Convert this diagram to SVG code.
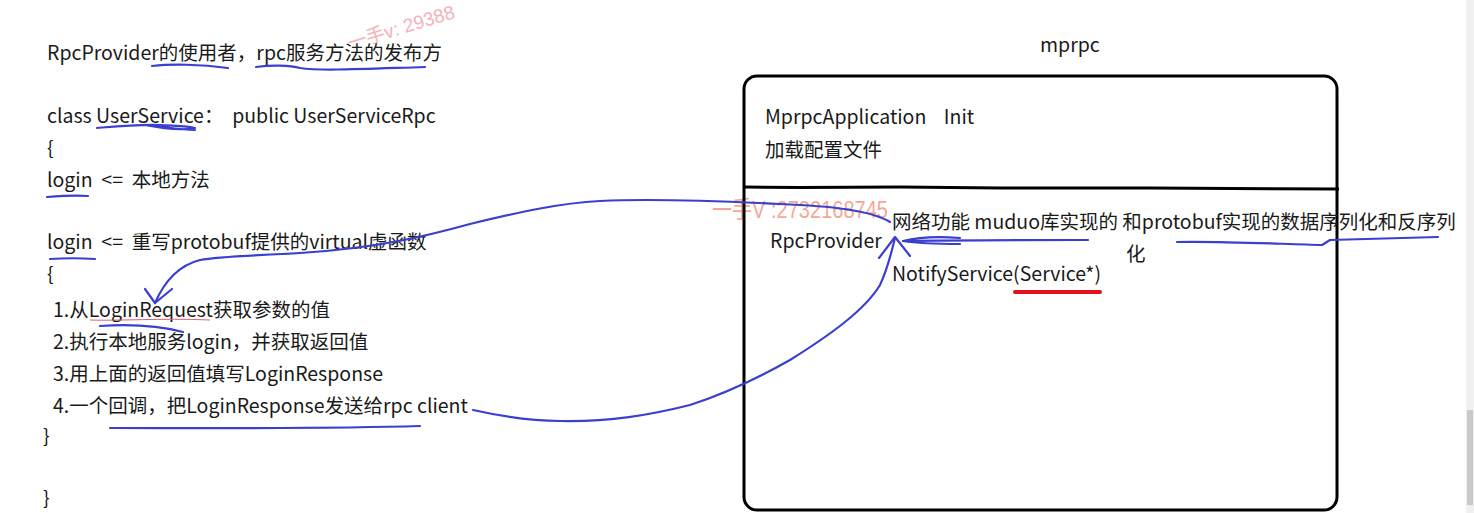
<svg xmlns="http://www.w3.org/2000/svg" width="1474" height="513" viewBox="0 0 1474 513">
<style>
.t{font-family:"Noto Sans CJK SC","Noto Sans",sans-serif;font-size:19.5px;fill:#1a1a1a;white-space:pre}
.ink{fill:none;stroke:#3a3fd0;stroke-width:2.2;stroke-linecap:round;stroke-linejoin:round}
.wm{font-family:"Liberation Sans","Noto Sans CJK SC",sans-serif;fill:#f29a86}
</style>
<rect width="1474" height="513" fill="#ffffff"/>
<rect x="1466" y="0" width="8" height="513" fill="#f0f0f0"/>
<rect x="1467" y="410" width="6" height="95" fill="#c9c9c9"/>

<g id="watermarks">
<text class="wm" x="350" y="50" font-size="19" transform="rotate(-17 350 50)" style="fill:#f6b0bc">一手v: 29388</text>
<text class="wm" x="712" y="218" font-size="24" textLength="176" lengthAdjust="spacingAndGlyphs" opacity="0.85">一手V :2732168745</text>
</g>

<g id="code">
<text class="t" x="47" y="60">RpcProvider的使用者，rpc服务方法的发布方</text>
<text class="t" x="47" y="123" xml:space="preserve">class UserService：  public UserServiceRpc</text>
<text class="t" x="47" y="155">{</text>
<text class="t" x="47" y="187" xml:space="preserve">login  &lt;=  本地方法</text>
<text class="t" x="47" y="249" xml:space="preserve">login  &lt;=  重写protobuf提供的virtual虚函数</text>
<text class="t" x="47" y="281">{</text>
<text class="t" x="53" y="317">1.从LoginRequest获取参数的值</text>
<text class="t" x="53" y="349">2.执行本地服务login，并获取返回值</text>
<text class="t" x="53" y="381">3.用上面的返回值填写LoginResponse</text>
<text class="t" x="53" y="413">4.一个回调，把LoginResponse发送给rpc client</text>
<text class="t" x="43" y="443">}</text>
<text class="t" x="43" y="505">}</text>
</g>

<g id="mprpc">
<text class="t" x="1040" y="52">mprpc</text>
<rect x="744" y="76" width="593" height="434" rx="13" fill="none" stroke="#000" stroke-width="3"/>
<path d="M745 187 L800 187.5 L900 187 L1000 188 L1150 188 L1339 189" fill="none" stroke="#000" stroke-width="3"/>
</g>

<g id="init">
<text class="t" x="765" y="124" xml:space="preserve">MprpcApplication    Init</text>
<text class="t" x="765" y="157">加载配置文件</text>
</g>

<g id="rpcprovider">
<text class="t" x="770" y="248">RpcProvider</text>
<text class="t" x="892" y="229">网络功能 muduo库实现的 和protobuf实现的数据序列化和反序列</text>
<text class="t" x="1126" y="261">化</text>
<text class="t" x="892" y="281">NotifyService(Service*)</text>
</g>

<g id="connectors">
<path class="ink" d="M152 66 C170 64 200 64 228 68"/>
<path class="ink" d="M256 67 C270 65 290 65 300 68 C320 71 360 69 425 67"/>
<path class="ink" d="M97 128 C120 126 140 124 160 125 C175 126 188 126 195 128 C180 131 160 128 145 125 C160 126 180 130 195 130"/>
<path class="ink" d="M47 197 C60 196 75 195 88 196"/>
<path class="ink" d="M50 259 C65 258 80 258 95 259"/>
<path class="ink" d="M100 326 C130 324 160 326 183 332"/>
<path d="M90 320 C120 321 160 318 210 320" fill="none" stroke="#e06070" stroke-width="1"/>
<path class="ink" d="M110 428 C200 428 320 429 420 426"/>
<path class="ink" d="M1177 242 C1220 241 1280 244 1322 245 L1330 240 C1370 239 1410 238 1438 237"/>
<path d="M1015 292 L1100 292" fill="none" stroke="#e4101c" stroke-width="4" stroke-linecap="round"/>
<path class="ink" d="M890 222 C870 210 830 206 780 204 C700 200 640 199 600 201 C560 203 520 212 470 224 C430 235 380 248 300 253 C250 256 220 256 200 260 C180 265 165 280 155 303"/>
<path class="ink" d="M145 289 L155 303 L172 289"/>
<path class="ink" d="M473 410 C500 416 530 421 560 421 C610 422 650 415 690 405 C730 392 760 377 790 360 C830 335 865 310 880 285 C888 268 892 250 895 238"/>
<path class="ink" d="M879 258 L895 237 L910 256"/>
<path class="ink" d="M1088 240 C1030 240 960 240 903 241"/>
<path class="ink" d="M903 241 C915 238 935 236 960 238"/>
<path class="ink" d="M903 241 C915 243 935 244 960 244"/>
</g>
</svg>
